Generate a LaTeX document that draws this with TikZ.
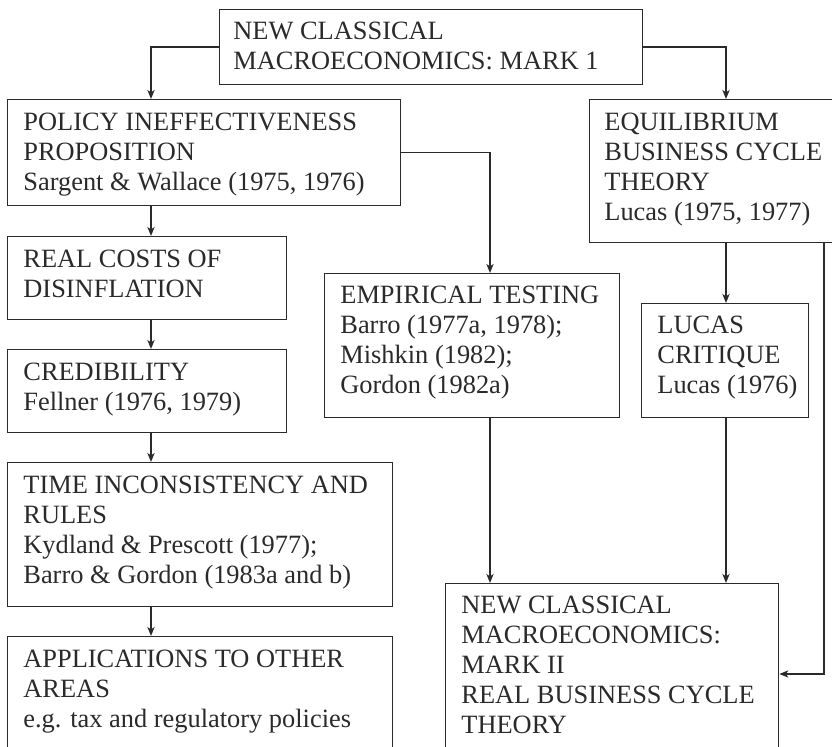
\documentclass[tikz,border=0pt]{standalone}
\usepackage{fontspec}
\setmainfont{Liberation Serif}
\usetikzlibrary{arrows.meta}
\definecolor{linegray}{HTML}{2A2A2A}
\tikzset{
  box/.style 2 args={draw=linegray, line width=.65pt, anchor=north west, inner sep=0pt, minimum width=#1*0.5pt, minimum height=#2*0.5pt},
  txt/.style={anchor=north west, inner sep=0pt, align=left, text=linegray, font=\fontsize{13.2}{15}\selectfont},
  ar/.style={-{Stealth[length=4.5pt,width=3.6pt,inset=1.2pt]}, line width=.65pt, draw=linegray},
}
\begin{document}
\begin{tikzpicture}[x=0.5pt, y=-0.5pt]
    \path[use as bounding box, clip] (0,0) rectangle (832,747);
    \coordinate (lx) at (151,0);
    \coordinate (mx) at (490,0);
    \coordinate (rx) at (726,0);
    \coordinate (fx) at (824,674);
    \node[box={423}{75}] (top) at (219,9) {};
    \node[box={393}{106}] (pol) at (7,99) {};
    \node[box={279}{83}] (real) at (7,236) {};
    \node[box={279}{83}] (cred) at (7,349) {};
    \node[box={385}{144}] (time) at (7,462) {};
    \node[box={385}{140}] (appl) at (7,636) {};
    \node[box={270}{143}] (ebc) at (589,99) {};
    \node[box={295}{144}] (emp) at (324,273) {};
    \node[box={167}{114}] (luc) at (641,303) {};
    \node[box={333}{180}] (mark) at (445,583) {};
    \node[txt] at ([shift={(14,13)}]top.north west) {NEW CLASSICAL\\MACROECONOMICS: MARK 1};
    \node[txt] at ([shift={(16,14)}]pol.north west) {POLICY INEFFECTIVENESS\\PROPOSITION\\Sargent \& Wallace (1975, 1976)};
    \node[txt] at ([shift={(16,14)}]real.north west) {REAL COSTS OF\\DISINFLATION};
    \node[txt] at ([shift={(16,14)}]cred.north west) {CREDIBILITY\\Fellner (1976, 1979)};
    \node[txt] at ([shift={(16,14)}]time.north west) {TIME INCONSISTENCY AND\\RULES\\Kydland \& Prescott (1977);\\Barro \& Gordon (1983a and b)};
    \node[txt] at ([shift={(16,14)}]appl.north west) {APPLICATIONS TO OTHER\\AREAS\\e.g. tax and regulatory policies};
    \node[txt] at ([shift={(15,14)}]ebc.north west) {EQUILIBRIUM\\BUSINESS CYCLE\\THEORY\\Lucas (1975, 1977)};
    \node[txt] at ([shift={(16,13)}]emp.north west) {EMPIRICAL TESTING\\Barro (1977a, 1978);\\Mishkin (1982);\\Gordon (1982a)};
    \node[txt] at ([shift={(16,13)}]luc.north west) {LUCAS\\CRITIQUE\\Lucas (1976)};
    \node[txt] at ([shift={(16,13)}]mark.north west) {NEW CLASSICAL\\MACROECONOMICS:\\MARK II\\REAL BUSINESS CYCLE\\THEORY};
    \draw[ar] (top.west) -| (pol.north -| lx);
    \draw[ar] (top.east) -| (ebc.north -| rx);
    \draw[ar] (pol.south -| lx) -- (real.north -| lx);
    \draw[ar] (real.south -| lx) -- (cred.north -| lx);
    \draw[ar] (cred.south -| lx) -- (time.north -| lx);
    \draw[ar] (time.south -| lx) -- (appl.north -| lx);
    \draw[ar] (pol.east) -| (emp.north -| mx);
    \draw[ar] (ebc.south -| rx) -- (luc.north -| rx);
    \draw[ar] (emp.south -| mx) -- (mark.north -| mx);
    \draw[ar] (luc.south -| rx) -- (mark.north -| rx);
    \draw[ar] (ebc.south -| fx) -- (fx) -- (mark.east |- fx);
  \end{tikzpicture}
\end{document}
